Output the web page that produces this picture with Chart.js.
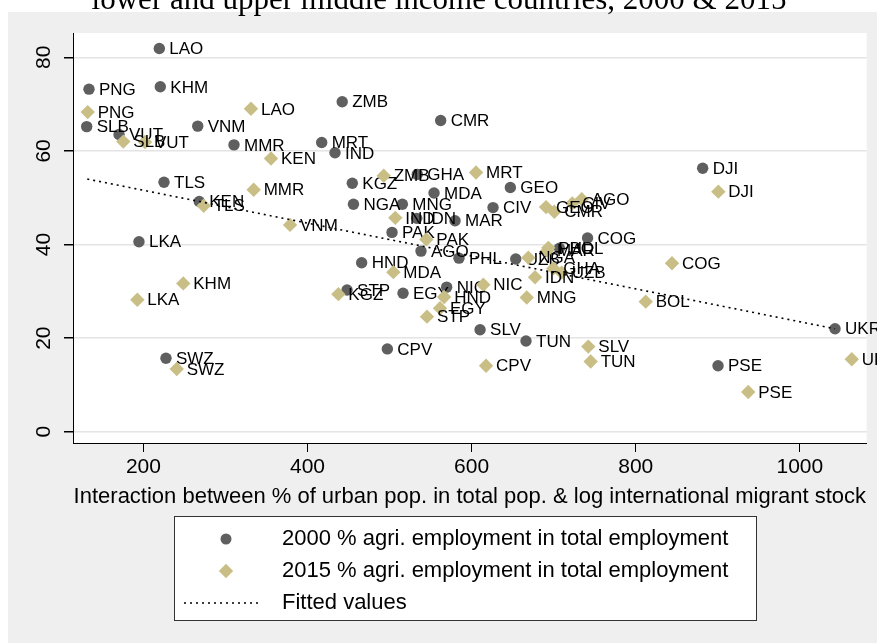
<!DOCTYPE html>
<html>
<head>
<meta charset="utf-8">
<script src="https://cdn.jsdelivr.net/npm/chart.js@4.4.1/dist/chart.umd.min.js"></script>
<style>
  html, body { margin: 0; padding: 0; background: #ffffff; }
  #wrap { position: relative; width: 877px; height: 643px; }
</style>
</head>
<body>
<div id="wrap"><canvas id="chart" width="877" height="643"></canvas></div>
<script>
// Country codes and values, year 2000 (x: urban share x log migrant stock, y: % agri. employment)
const codes2000 = ['LAO','PNG','KHM','SLB','VUT','VNM','MMR','MRT','IND','ZMB',
  'CMR','TLS','KEN','KGZ','NGA','GHA','MDA','GEO','MNG','CIV',
  'IDN','MAR','PAK','AGO','PHL','HND','COG','LKA','STP','EGY',
  'NIC','CPV','SLV','TUN','SWZ','UZB','BOL','DJI','UKR','PSE'];
const x2000 = [219.4,133.7,220.6,130.9,170.3,266.2,310.4,417.3,433.5,442.3,
  562.3,225.1,268.1,454.6,456.0,533.8,554.2,647.2,515.6,626.1,
  533.1,579.8,503.0,538.3,584.6,466.0,741.3,194.6,448.2,516.4,
  569.6,497.3,610.3,666.3,227.5,653.8,707.0,881.6,1042.9,900.3];
const y2000 = [81.9,73.2,73.7,65.2,63.5,65.3,61.3,61.8,59.6,70.5,
  66.5,53.3,49.2,53.1,48.6,55.0,51.0,52.2,48.6,47.9,
  45.6,45.1,42.6,38.6,37.1,36.1,41.4,40.6,30.3,29.6,
  30.9,17.7,21.8,19.4,15.7,36.9,39.2,56.3,22.0,14.1];

// Year 2015
const codes2015 = ['PNG','LAO','SLB','VUT','KEN','MMR','TLS','VNM','ZMB','MRT',
  'IND','PAK','GEO','CMR','CIV','AGO','MAR','PHL','NGA','GHA',
  'UZB','IDN','MNG','NIC','HND','EGY','STP','KGZ','MDA','KHM',
  'LKA','SWZ','CPV','SLV','TUN','COG','BOL','DJI','UKR','PSE'];
const x2015 = [132.1,331.1,175.5,201.9,355.5,334.4,273.5,378.7,492.9,605.4,
  507.0,544.8,690.7,700.8,722.7,734.2,692.0,693.5,669.1,699.6,
  709.8,677.3,667.2,614.3,566.5,561.5,545.6,437.6,504.6,248.6,
  192.6,240.6,617.6,742.2,745.1,844.2,812.2,900.7,1063.3,937.1];
const y2015 = [68.3,69.0,62.0,61.9,58.4,51.7,48.3,44.2,54.7,55.4,
  45.7,41.1,48.0,47.0,48.8,49.7,38.7,39.3,37.2,34.9,
  34.0,33.0,28.7,31.4,28.8,26.4,24.6,29.4,34.1,31.7,
  28.2,13.4,14.1,18.2,15.0,36.0,27.8,51.3,15.5,8.5];

// Linear fit, drawn between its two end points
const fitX = [131.6, 1043.0];
const fitY = [54.0, 22.0];

const xTicks = [200, 400, 600, 800, 1000];
const yTicks = [0, 20, 40, 60, 80];

const titleText = 'lower and upper middle income countries, 2000 & 2015';
const xTitle = 'Interaction between % of urban pop. in total pop. & log international migrant stock';
const legendLabels = ['2000 % agri. employment in total employment',
  '2015 % agri. employment in total employment', 'Fitted values'];

const SANS = '"Liberation Sans", Arial, Helvetica, sans-serif';
const COL2000 = '#5f5f5f';
const COL2015 = '#c9bf86';

const toPts = (xs, ys) => xs.map((x, i) => ({ x: x, y: ys[i] }));

// Backdrop: grey graph region, white plot region, partially visible title
const backdrop = {
  id: 'backdrop',
  beforeDraw(chart) {
    const { ctx, chartArea: a } = chart;
    ctx.save();
    ctx.fillStyle = '#ffffff';
    ctx.fillRect(0, 0, chart.width, chart.height);
    ctx.fillStyle = '#efefef';
    ctx.fillRect(8, 12, chart.width - 8, chart.height - 12);
    ctx.fillStyle = '#ffffff';
    ctx.fillRect(a.left, a.top, a.right - a.left, a.bottom - a.top);
    ctx.fillStyle = '#000000';
    ctx.font = '31px "Liberation Serif", "Times New Roman", serif';
    ctx.textAlign = 'center';
    ctx.textBaseline = 'alphabetic';
    ctx.fillText(titleText, 439, 9);
    ctx.restore();
  }
};

// Country code next to each marker
const pointLabels = {
  id: 'pointLabels',
  afterDatasetDraw(chart, args) {
    const ds = chart.data.datasets[args.index];
    if (!ds.codes) return;
    const ctx = chart.ctx;
    ctx.save();
    ctx.font = '17px ' + SANS;
    ctx.fillStyle = '#000000';
    ctx.textAlign = 'left';
    ctx.textBaseline = 'middle';
    args.meta.data.forEach((pt, i) => {
      ctx.fillText(ds.codes[i], pt.x + 10, pt.y + 1);
    });
    ctx.restore();
  }
};

// Vertical y tick labels, x axis title and the boxed legend
const decorations = {
  id: 'decorations',
  afterDraw(chart) {
    const { ctx, chartArea: a } = chart;
    const ys = chart.scales.y;
    ctx.save();
    ctx.fillStyle = '#000000';
    ctx.font = '21px ' + SANS;
    ctx.textAlign = 'center';
    ctx.textBaseline = 'middle';
    yTicks.forEach(v => {
      const py = ys.getPixelForValue(v);
      ctx.save();
      ctx.translate(44, py);
      ctx.rotate(-Math.PI / 2);
      ctx.fillText(String(v), 0, 0);
      ctx.restore();
    });

    ctx.font = '22px ' + SANS;
    ctx.fillText(xTitle, (a.left + a.right) / 2, 497);

    // legend box
    const bx = 174.5, by = 516.5, bw = 582, bh = 104;
    ctx.fillStyle = '#ffffff';
    ctx.fillRect(bx, by, bw, bh);
    ctx.strokeStyle = '#333333';
    ctx.lineWidth = 1;
    ctx.strokeRect(bx, by, bw, bh);

    const rows = [539, 571, 603];
    const mx = 226;
    ctx.fillStyle = COL2000;
    ctx.beginPath();
    ctx.arc(mx, rows[0], 5.5, 0, Math.PI * 2);
    ctx.fill();
    ctx.fillStyle = COL2015;
    ctx.beginPath();
    ctx.moveTo(mx - 7.2, rows[1]);
    ctx.lineTo(mx, rows[1] - 7.2);
    ctx.lineTo(mx + 7.2, rows[1]);
    ctx.lineTo(mx, rows[1] + 7.2);
    ctx.closePath();
    ctx.fill();
    ctx.strokeStyle = '#000000';
    ctx.lineWidth = 1.6;
    ctx.setLineDash([2, 4]);
    ctx.beginPath();
    ctx.moveTo(184, rows[2]);
    ctx.lineTo(258, rows[2]);
    ctx.stroke();
    ctx.setLineDash([]);

    ctx.fillStyle = '#000000';
    ctx.font = '22px ' + SANS;
    ctx.textAlign = 'left';
    legendLabels.forEach((t, i) => ctx.fillText(t, 282, rows[i]));
    ctx.restore();
  }
};

new Chart(document.getElementById('chart'), {
  type: 'scatter',
  data: {
    datasets: [
      {
        type: 'line',
        label: legendLabels[2],
        data: toPts(fitX, fitY),
        borderColor: '#000000',
        borderWidth: 1.6,
        borderDash: [2, 4],
        pointRadius: 0,
        fill: false,
        order: 0
      },
      {
        label: legendLabels[1],
        codes: codes2015,
        data: toPts(x2015, y2015),
        pointStyle: 'rectRot',
        pointRadius: 7.2,
        backgroundColor: COL2015,
        borderColor: COL2015,
        borderWidth: 0,
        order: 1
      },
      {
        label: legendLabels[0],
        codes: codes2000,
        data: toPts(x2000, y2000),
        pointStyle: 'circle',
        pointRadius: 5.7,
        backgroundColor: COL2000,
        borderColor: COL2000,
        borderWidth: 0,
        order: 2
      }
    ]
  },
  options: {
    responsive: false,
    animation: false,
    events: [],
    layout: { padding: { top: 33, right: 10.3, left: 0, bottom: 0 } },
    plugins: {
      legend: { display: false },
      tooltip: { enabled: false },
      title: { display: false }
    },
    scales: {
      x: {
        type: 'linear',
        min: 114.2,
        max: 1081.5,
        afterBuildTicks: s => { s.ticks = xTicks.map(v => ({ value: v })); },
        afterFit: s => { s.height = 200; },
        grid: { drawOnChartArea: false, tickLength: 9, tickColor: '#000000', lineWidth: 1 },
        border: { display: true, color: '#000000', width: 1 },
        ticks: {
          color: '#000000',
          font: { family: SANS, size: 21 },
          padding: 3,
          maxRotation: 0,
          minRotation: 0,
          callback: v => String(v)
        }
      },
      y: {
        type: 'linear',
        min: -2.4,
        max: 85.2,
        afterBuildTicks: s => { s.ticks = yTicks.map(v => ({ value: v })); },
        afterFit: s => { s.width = 73; },
        grid: { color: '#e4e4e4', lineWidth: 1.5, tickLength: 9, tickColor: '#000000', drawOnChartArea: true },
        border: { display: true, color: '#000000', width: 1 },
        ticks: { display: false }
      }
    }
  },
  plugins: [backdrop, pointLabels, decorations]
});
</script>
</body>
</html>
